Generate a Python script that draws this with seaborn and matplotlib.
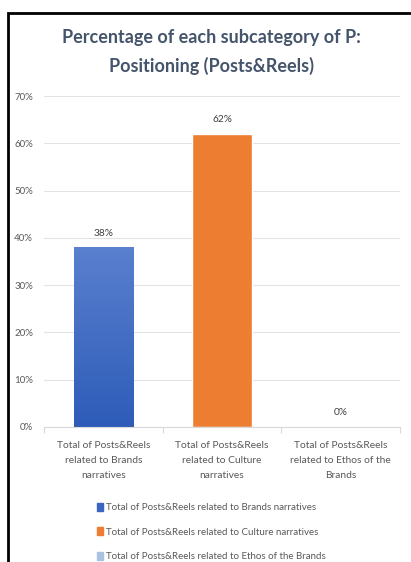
import numpy as np
import pandas as pd
import matplotlib
matplotlib.use("Agg")
import matplotlib.pyplot as plt
import seaborn as sns
from matplotlib.patches import Rectangle
from matplotlib.ticker import PercentFormatter
from matplotlib.colors import LinearSegmentedColormap

categories = [
    "Total of Posts&Reels\nrelated to Brands\nnarratives",
    "Total of Posts&Reels\nrelated to Culture\nnarratives",
    "Total of Posts&Reels\nrelated to Ethos of the\nBrands",
]
legend_labels = [
    "Total of Posts&Reels related to Brands narratives",
    "Total of Posts&Reels related to Culture narratives",
    "Total of Posts&Reels related to Ethos of the Brands",
]
values = [0.38, 0.62, 0.0]
value_labels = ["38%", "62%", "0%"]
yticks = [0, 0.1, 0.2, 0.3, 0.4, 0.5, 0.6, 0.7]
colors = ["#4472c4", "#ed7d31", "#a9c2e2"]

sns.set_theme(style="white")
plt.rcParams["font.family"] = ["Lato", "DejaVu Sans"]

W, H = 411, 562
fig = plt.figure(figsize=(W / 100, H / 100), dpi=100)
ax = fig.add_axes([44 / W, 1 - 427 / H, (400 - 44) / W, (427 - 96) / H])

df = pd.DataFrame({"cat": categories, "val": values, "leg": legend_labels})
sns.barplot(data=df, x="cat", y="val", hue="leg", palette=colors, width=0.5,
            dodge=False, ax=ax, legend=False, saturation=1)

ax.set_ylim(0, 0.7)
ax.set_xlim(-0.5, 2.5)
ax.set_yticks(yticks)
ax.yaxis.set_major_formatter(PercentFormatter(1.0, decimals=0))
ax.grid(axis="y", color="#e3e3e3", linewidth=0.8)
ax.set_axisbelow(True)
for s in ["top", "right", "left"]:
    ax.spines[s].set_visible(False)
ax.spines["bottom"].set_color("#d9d9d9")
ax.spines["bottom"].set_linewidth(0.8)
ax.set_xlabel("")
ax.set_ylabel("")
ax.tick_params(axis="y", length=0, labelsize=7, labelcolor="#595959", pad=8)
ax.tick_params(axis="x", length=0, labelsize=7.4, labelcolor="#595959", pad=10)
ax.set_xticks(range(3))
ax.set_xticklabels(categories, linespacing=1.9)
ax.set_xticks([-0.5, 0.5, 1.5, 2.5], minor=True)
ax.tick_params(axis="x", which="minor", length=4, color="#d9d9d9", width=0.8, bottom=True)

# gradient on the blue bar
bars = [p for p in ax.patches if isinstance(p, Rectangle)]
blue_bar = bars[0]
x0, y0 = blue_bar.get_x(), blue_bar.get_y()
bw, bh = blue_bar.get_width(), blue_bar.get_height()
grad = np.linspace(0, 1, 256).reshape(-1, 1)
cmap = LinearSegmentedColormap.from_list("g", ["#2d5cb8", "#5a80cf"])
im = ax.imshow(grad, extent=(x0, x0 + bw, y0, y0 + bh), origin="lower",
               cmap=cmap, aspect="auto", zorder=blue_bar.get_zorder() + 0.1)
im.set_clip_path(blue_bar)
ax.set_xlim(-0.5, 2.5)
ax.set_ylim(0, 0.7)

for i, (v, lab) in enumerate(zip(values, value_labels)):
    ax.annotate(lab, (i, v), xytext=(0, 7), textcoords="offset points",
                ha="center", va="bottom", fontsize=7.3, color="#404040")

fig.suptitle("Percentage of each subcategory of P:\nPositioning (Posts&Reels)",
             x=211 / W, y=1 - 29 / H, fontsize=13, fontweight="bold",
             color="#44546a", linespacing=1.75, va="top")

handles = [Rectangle((0, 0), 1, 1, color=c) for c in colors]
handles[0] = Rectangle((0, 0), 1, 1, color="#3a66c0")
leg = fig.legend(handles, legend_labels, loc="upper left",
                 bbox_to_anchor=(92 / W, 1 - 498 / H), frameon=False,
                 fontsize=7, handlelength=0.6, handleheight=0.9,
                 handletextpad=0.3, labelspacing=1.55, borderpad=0)
for t in leg.get_texts():
    t.set_color("#595959")

fig.patches.append(Rectangle((8 / W, -0.05), 1.1, 1 - 13 / H + 0.05,
                             transform=fig.transFigure, fill=False,
                             edgecolor="black", linewidth=2))

fig.savefig("out.png", dpi=100)
